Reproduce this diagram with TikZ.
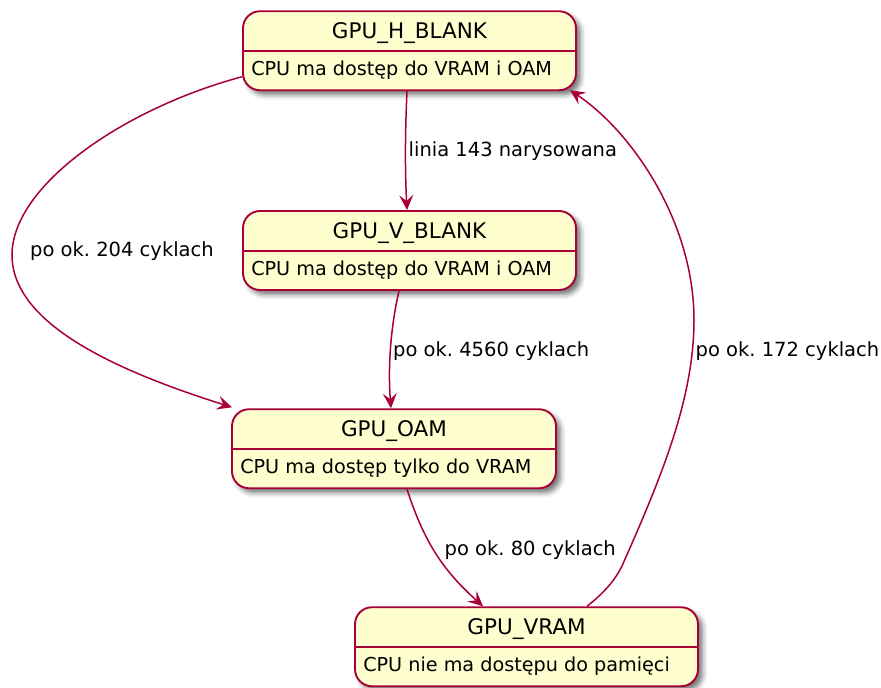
\documentclass[tikz,border=0pt]{standalone}
\usepackage{fontspec}
\setmainfont{DejaVu Sans}
\usetikzlibrary{arrows.meta,calc,shadows.blur}

\definecolor{stateborder}{HTML}{A80036}
\definecolor{statefill}{HTML}{FEFECE}

\tikzset{
  statebox/.style={draw=stateborder, fill=statefill, line width=1.9pt,
    rounded corners=17pt, inner sep=0pt, minimum height=79pt,
    blur shadow={shadow xshift=4.5pt, shadow yshift=-4.5pt,
      shadow blur radius=5pt, shadow opacity=55}},
  sepline/.style={draw=stateborder, line width=1.9pt},
  statetitle/.style={anchor=base, inner sep=0pt,
    font=\fontsize{21.5}{24}\selectfont},
  statebody/.style={anchor=base west, inner sep=0pt,
    font=\fontsize{19.2}{22}\selectfont},
  trans/.style={draw=stateborder, line width=1.5pt,
    -{Stealth[length=15pt,width=14pt,inset=6pt]}},
  translabel/.style={anchor=base west, inner sep=0pt,
    font=\fontsize{19.5}{22}\selectfont},
}

\begin{document}
\frenchspacing
\begin{tikzpicture}[x=1pt,y=-1pt]
\useasboundingbox (0,0) rectangle (881,688);

% states
\node[statebox, minimum width=333pt] (hb)   at (409.5,50.75) {};
\node[statebox, minimum width=333pt] (vb)   at (409.5,250.5) {};
\node[statebox, minimum width=324pt] (oam)  at (394,448.75) {};
\node[statebox, minimum width=343pt] (vram) at (526.5,646.75) {};

% separators, titles and descriptions
\foreach \s/\t/\b in {hb/GPU\_H\_BLANK/CPU ma dostęp do VRAM i OAM,
                      vb/GPU\_V\_BLANK/CPU ma dostęp do VRAM i OAM,
                      oam/GPU\_OAM/CPU ma dostęp tylko do VRAM,
                      vram/GPU\_VRAM/CPU nie ma dostępu do pamięci}{
  \draw[sepline] ($(\s.north west)+(0,41)$) -- ($(\s.north east)+(0,41)$);
  \node[statetitle] (\s-title) at ($(\s.north)+(0,28.5)$) {\t};
  \node[statebody] (\s-body) at ($(\s.north west)+(9,65.5)$) {\b};
}

% transitions
\draw[trans] ($(hb.west)+(0,26)$)
  .. controls (125,108) and (12,185) .. (12,255)
  .. controls (12,325) and (120,372) .. ($(oam.north west)+(1,-1)$);
\draw[trans] ($(hb.south)+(-2.5,0)$)
  .. controls (405,135) and (405,170) .. ($(vb.north)+(-2.5,0)$);
\draw[trans] ($(vb.south)+(-10.5,0)$)
  .. controls (390,330) and (388,370) .. ($(oam.north)+(-3,0)$);
\draw[trans] ($(oam.south)+(13,0)$)
  .. controls (425,545) and (445,572) .. ($(vram.north)+(-43.5,0)$);
\draw[trans] ($(vram.north)+(60.5,0)$)
  .. controls (605,592) and (615,580) .. (622,566)
  .. controls (660,480) and (694,400) .. (694,320)
  .. controls (694,220) and (630,130) .. ($(hb.south east)+(-7,-1)$);

% transition labels
\node[translabel] (l1) at (30,256.5) {po ok. 204 cyklach};
\node[translabel] (l2) at (408.5,156.5) {linia 143 narysowana};
\node[translabel] (l3) at (393,356) {po ok. 4560 cyklach};
\node[translabel] (l4) at (444.5,555) {po ok. 80 cyklach};
\node[translabel] (l5) at (695.5,356) {po ok. 172 cyklach};
\end{tikzpicture}
\end{document}
